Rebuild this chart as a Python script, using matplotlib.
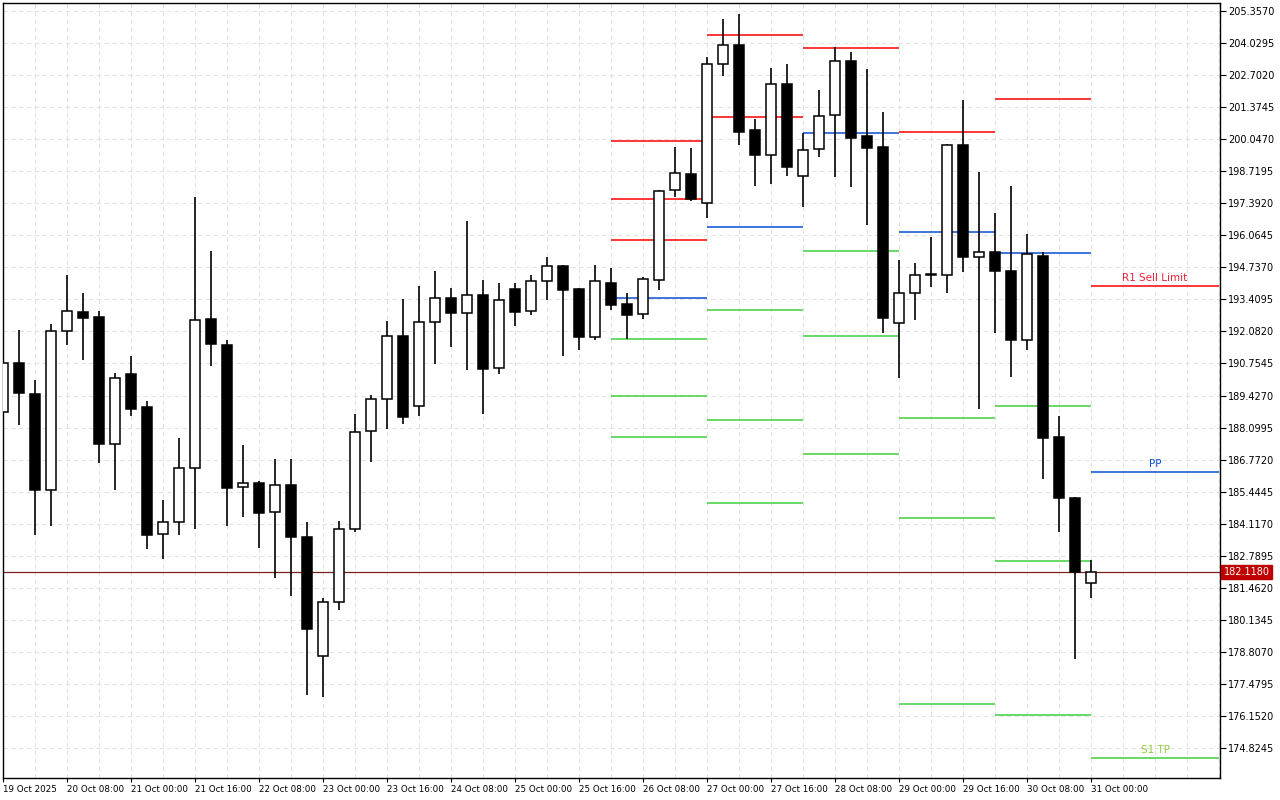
import matplotlib
matplotlib.use("Agg")
import matplotlib.pyplot as plt
import numpy as np

opens = [188.74,190.77,189.49,185.51,192.10,192.89,192.68,187.42,190.32,188.95,
         183.69,184.19,186.42,192.60,191.52,185.64,185.80,184.60,185.72,183.57,
         178.64,180.87,183.90,187.96,189.28,191.89,188.99,192.47,193.47,192.85,
         193.59,190.57,193.84,192.93,194.17,194.79,193.84,191.85,194.09,193.22,
         192.80,194.21,197.94,198.60,197.40,203.16,203.95,200.43,199.39,202.33,
         198.52,199.64,201.05,203.29,200.18,199.72,192.43,193.68,194.42,194.42,
         199.81,195.17,195.37,194.59,191.73,195.21,187.71,185.18,181.66]
highs = [190.77,192.14,190.07,192.39,194.42,193.68,192.93,190.36,191.07,189.20,
         185.10,187.67,197.65,195.41,191.73,187.38,185.89,186.80,186.80,184.19,
         181.04,184.23,188.66,189.45,192.52,193.43,193.96,194.59,193.88,196.66,
         194.21,194.09,194.09,194.42,195.17,194.83,193.88,194.83,194.71,193.68,
         194.34,197.94,199.72,199.68,203.45,205.03,205.23,200.88,203.00,203.16,
         200.30,202.08,203.87,203.66,202.95,201.17,195.04,194.92,196.00,199.85,
         201.67,198.69,196.99,198.11,196.12,195.37,188.58,185.22,182.61]
lows = [188.74,188.21,183.65,184.02,191.52,190.90,186.63,185.51,188.58,183.07,
        182.65,183.65,183.90,190.65,184.02,184.39,183.11,181.87,181.12,177.02,
        176.94,180.54,183.77,186.67,188.04,188.25,188.58,190.73,191.44,190.49,
        188.66,190.32,192.31,192.76,193.38,191.07,191.31,191.73,192.97,191.77,
        192.60,193.80,197.65,197.49,196.78,202.66,199.81,198.11,198.19,198.52,
        197.24,199.31,198.48,198.07,196.49,192.02,190.15,192.56,193.92,193.68,
        194.55,188.87,192.02,190.19,191.31,185.97,183.77,178.51,181.04]
closes = [190.77,189.53,185.51,192.10,192.93,192.64,187.42,190.15,188.87,183.65,
          184.19,186.42,192.56,191.56,185.60,185.80,184.56,185.72,183.57,179.76,
          180.87,183.90,187.92,189.28,191.89,188.54,192.47,193.47,192.85,193.59,
          190.53,193.38,192.89,194.17,194.79,193.80,191.85,194.17,193.18,192.76,
          194.25,197.90,198.65,197.57,203.16,203.95,200.34,199.39,202.33,198.89,
          199.60,201.01,203.29,200.10,199.68,192.64,193.68,194.42,194.46,199.81,
          195.17,195.37,194.59,191.73,195.29,187.67,185.18,182.12,182.118]

x_labels = ["19 Oct 2025","20 Oct 08:00","21 Oct 00:00","21 Oct 16:00","22 Oct 08:00",
            "23 Oct 00:00","23 Oct 16:00","24 Oct 08:00","25 Oct 00:00","25 Oct 16:00",
            "26 Oct 08:00","27 Oct 00:00","27 Oct 16:00","28 Oct 08:00","29 Oct 00:00",
            "29 Oct 16:00","30 Oct 08:00","31 Oct 00:00"]

y_ticks = [205.3570,204.0295,202.7020,201.3745,200.0470,198.7195,197.3920,196.0645,
           194.7370,193.4095,192.0820,190.7545,189.4270,188.0995,186.7720,185.4445,
           184.1170,182.7895,181.4620,180.1345,178.8070,177.4795,176.1520,174.8245]

# pivot segments: (start index, end index, resistances, pivot, supports)
seg_starts = [38, 44, 50, 56, 62, 68]
seg_ends = [44, 50, 56, 62, 68, 76]
seg_res = [[199.97,197.57,195.87],[204.36,200.97],[203.82],[200.34],[201.71],[193.96]]
seg_pp = [193.47,196.41,200.30,196.20,195.33,186.26]
seg_sup = [[191.77,189.41,187.71],[192.97,188.41,184.98],[195.41,191.89,187.00],
           [188.50,184.35,176.65],[188.99,182.57,176.19],[174.41]]
current_price = 182.118

RED = "#ff0000"; BLUE = "#0a4fd0"; GREEN = "#3fcf3f"

fig = plt.figure(figsize=(12.8, 8.0), dpi=100)
ax = fig.add_axes([3/1280, 22/800, 1217/1280, 775/800])
ax.set_facecolor("white")

for i in range(2, 77, 2):
    ax.axvline(i, color="#e2e2e2", lw=0.8, ls=(0, (4, 3)), zorder=0)
for t in y_ticks:
    ax.axhline(t, color="#e2e2e2", lw=0.8, ls=(0, (4, 3)), zorder=0)

for s, e, rs, pp, ss in zip(seg_starts, seg_ends, seg_res, seg_pp, seg_sup):
    for r in rs:
        ax.hlines(r, s, e, color=RED, lw=1.1, zorder=1)
    ax.hlines(pp, s, e, color=BLUE, lw=1.1, zorder=1)
    for v in ss:
        ax.hlines(v, s, e, color=GREEN, lw=1.1, zorder=1)

ax.text(72, seg_res[-1][0] + 0.12, "R1 Sell Limit", color="#f0203a", fontsize=7.5, ha="center", va="bottom")
ax.text(72, seg_pp[-1] + 0.12, "PP", color=BLUE, fontsize=7.5, ha="center", va="bottom")
ax.text(72, seg_sup[-1][0] + 0.12, "S1 TP", color="#8ccf3a", fontsize=7.5, ha="center", va="bottom")

ax.axhline(current_price, color="#7a2020", lw=0.9, zorder=1)

xs = np.arange(len(opens))
o = np.array(opens); c = np.array(closes); h = np.array(highs); l = np.array(lows)
ax.vlines(xs, l, h, color="black", lw=1.2, zorder=2)
bottom = np.minimum(o, c)
height = np.maximum(np.abs(c - o), 0.04)
cols = ["white" if cc >= oo else "black" for oo, cc in zip(o, c)]
ax.bar(xs, height, bottom=bottom, width=0.62, color=cols, edgecolor="black", lw=1.1, zorder=3)

ax.set_xlim(0, 76.06)
ax.set_ylim(173.582, 205.688)

ax.set_xticks(np.arange(0, 69, 4))
ax.set_xticklabels(x_labels, fontsize=6.3, ha="left")
ax.tick_params(axis="x", length=3, pad=2, width=0.8)
ax.yaxis.tick_right()
ax.set_yticks(y_ticks)
ax.set_yticklabels([f"{t:.4f}" for t in y_ticks], fontsize=7)
ax.tick_params(axis="y", length=4, pad=2, width=0.8)
for sp in ax.spines.values():
    sp.set_color("black"); sp.set_linewidth(1)

ax.text(1.003, current_price, f"{current_price:.4f}", transform=ax.get_yaxis_transform(),
        fontsize=7, color="white", va="center", ha="left",
        bbox=dict(boxstyle="square,pad=0.25", fc="#c00000", ec="#c00000"), zorder=5, clip_on=False)

fig.savefig("out.png", dpi=100, facecolor="white")
